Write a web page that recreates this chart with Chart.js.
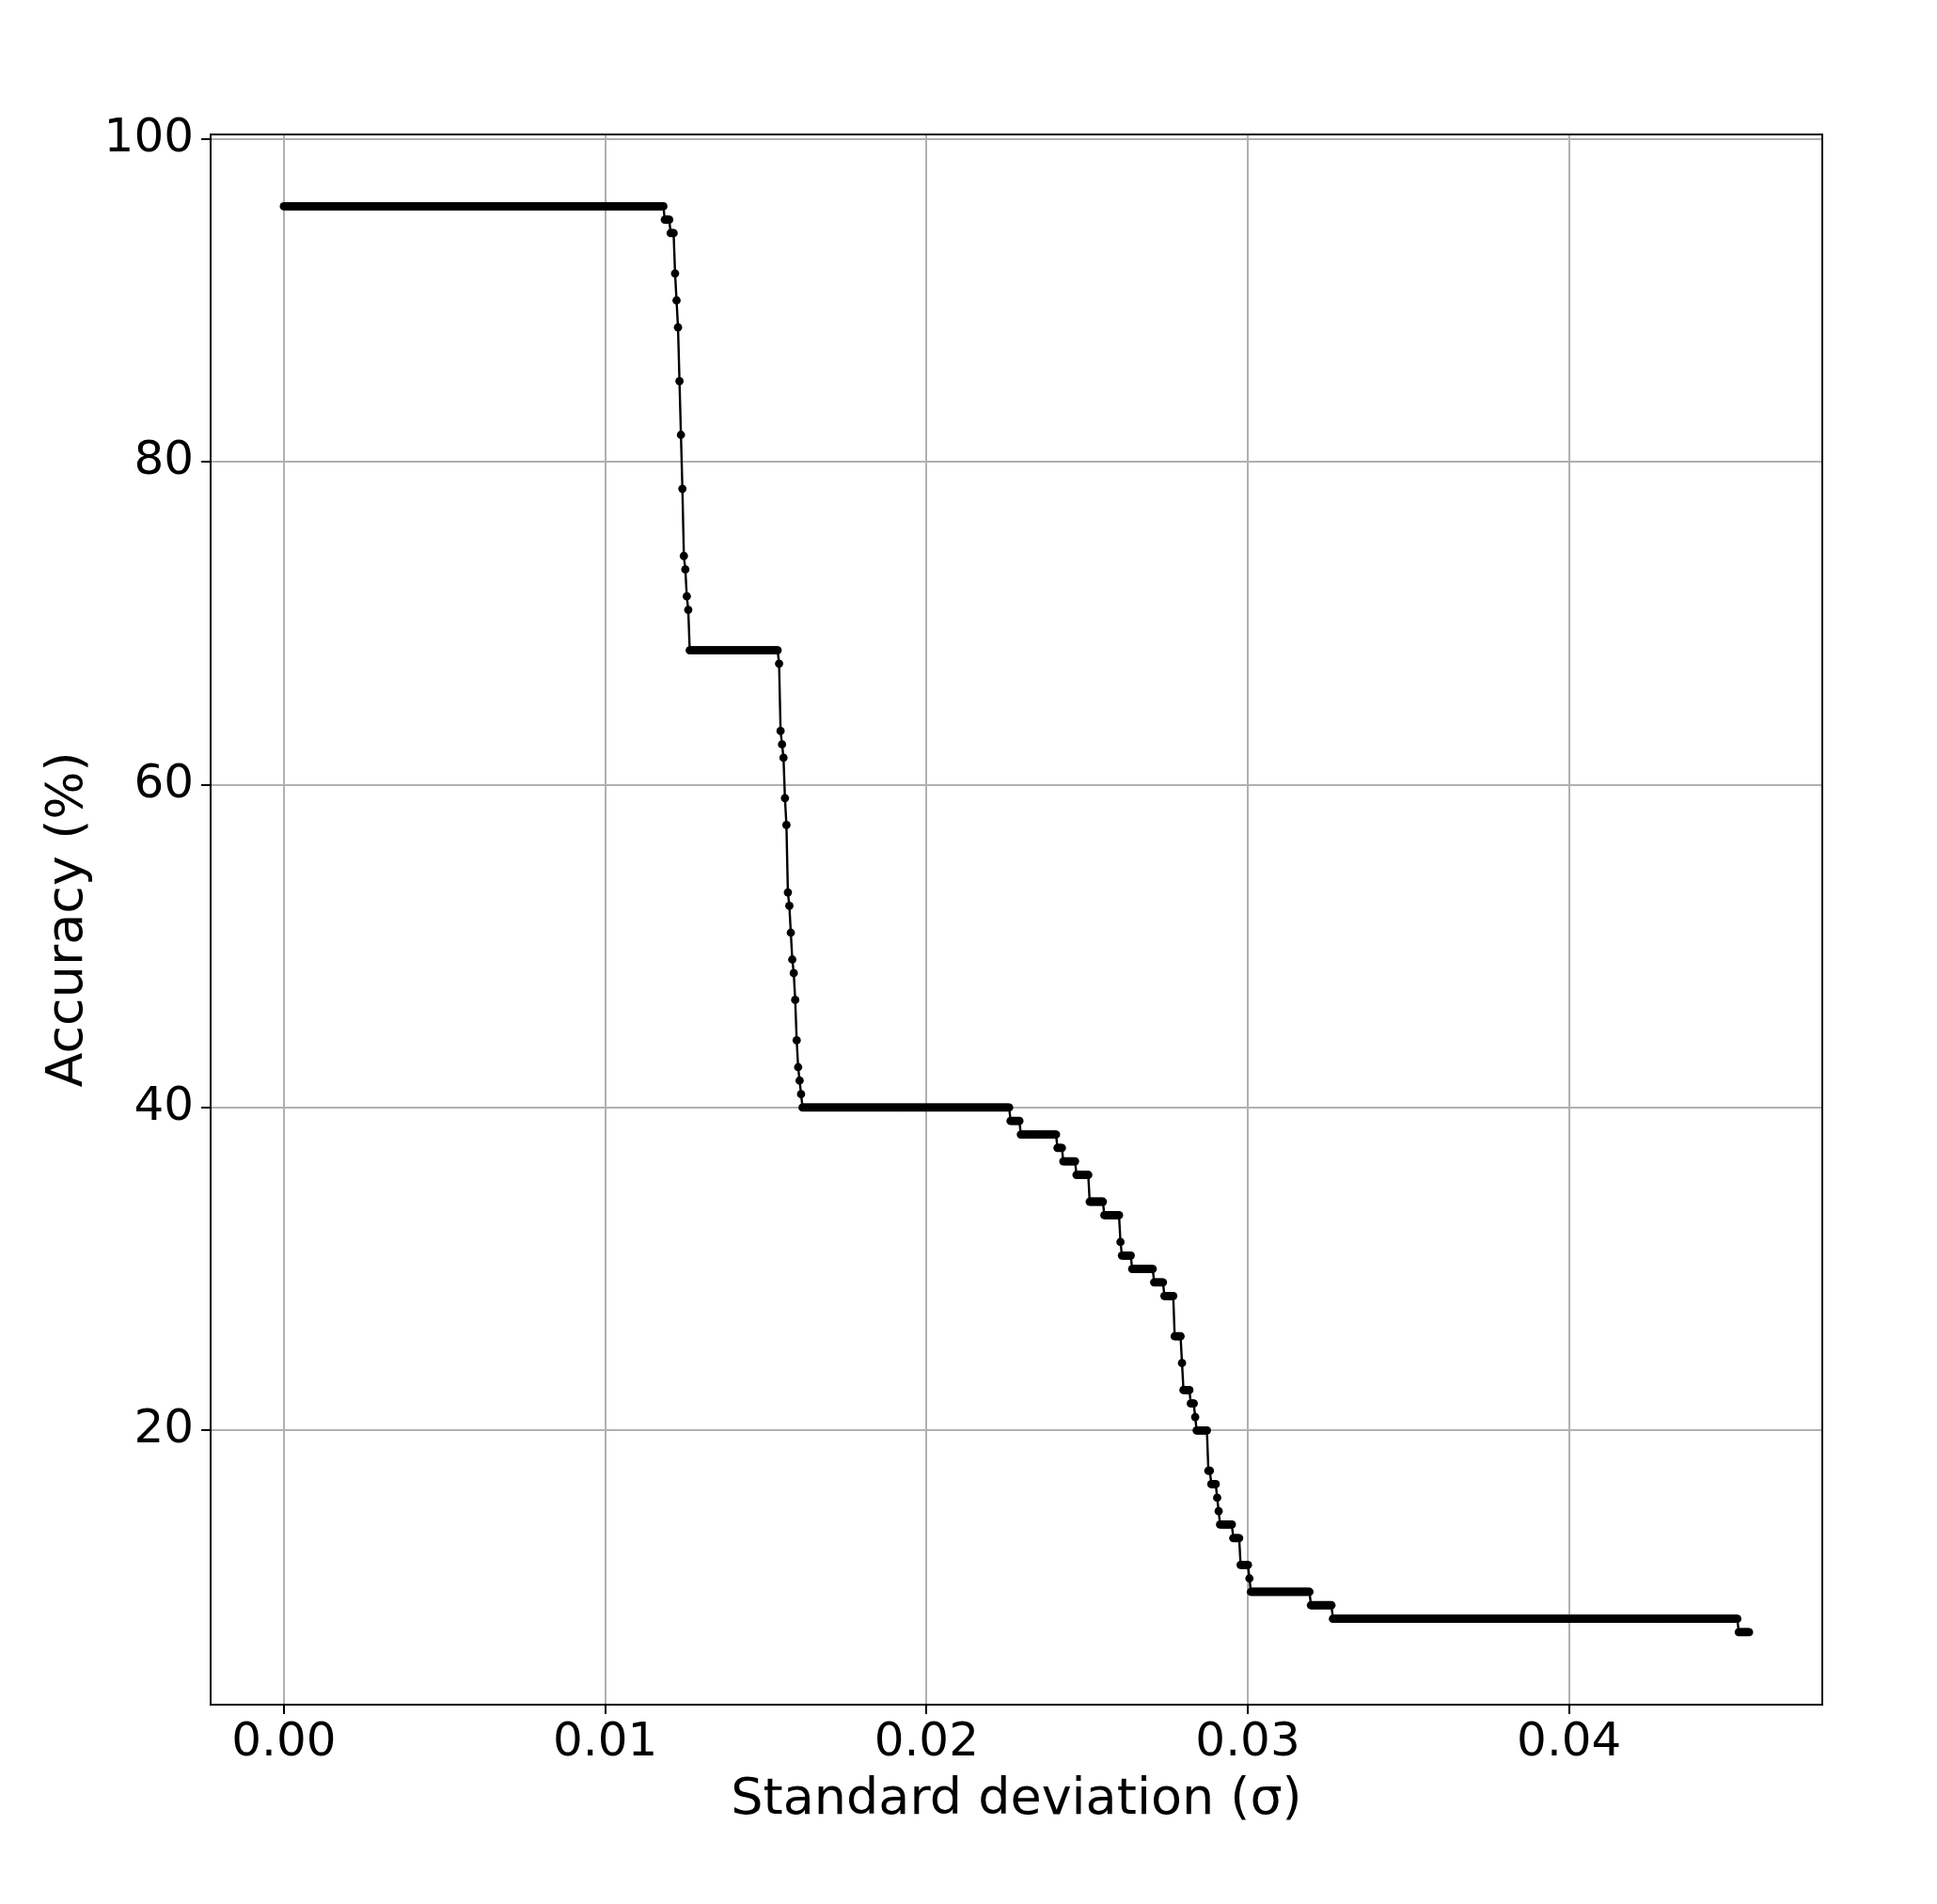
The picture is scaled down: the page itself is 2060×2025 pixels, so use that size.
<!DOCTYPE html>
<html>
<head>
<meta charset="utf-8">
<script src="https://cdn.jsdelivr.net/npm/chart.js@4.4.1/dist/chart.umd.min.js"></script>
<style>
  html, body { margin: 0; padding: 0; background: #fff; }
  canvas { display: block; }
</style>
</head>
<body>
<canvas id="GraficaCanvas" width="2060" height="2025"></canvas>
<script>
// sigma is sampled evenly from 0 to sigmaMax (sampleCount points)
const sigmaMax = 0.0456;
const sampleCount = 1001;

const accuracyLevels = [
  95.83, 95.0, 94.17, 91.67, 90.0, 88.33, 85.0, 81.67, 78.33, 74.17, 73.33, 71.67, 70.83,
  68.33, 67.5, 63.33, 62.5, 61.67, 59.17, 57.5, 53.33, 52.5, 50.83, 49.17, 48.33, 46.67,
  44.17, 42.5, 41.67, 40.83, 40.0, 39.17, 38.33, 37.5, 36.67, 35.83, 34.17, 33.33, 31.67,
  30.83, 30.0, 29.17, 28.33, 25.83, 24.17, 22.5, 21.67, 20.83, 20.0, 17.5, 16.67, 15.83,
  15.0, 14.17, 13.33, 11.67, 10.83, 10.0, 9.17, 8.33, 7.5,
];
const runLengths = [
  260, 4, 3, 1, 1, 1, 1, 1, 1, 1, 1, 1, 1,
  61, 1, 1, 1, 1, 1, 1, 1, 1, 1, 1, 1, 1,
  1, 1, 1, 1, 142, 7, 25, 4, 9, 9, 10, 11, 1,
  7, 15, 7, 7, 5, 1, 5, 3, 1, 8, 2, 4, 1,
  1, 9, 5, 6, 1, 41, 15, 277, 8,
];

const xTickValues = [0, 0.01, 0.02, 0.03, 0.04];
const yTickValues = [20, 40, 60, 80, 100];

const puntos = [];
let idx = 0;
accuracyLevels.forEach((acc, r) => {
  for (let k = 0; k < runLengths[r]; k++) {
    puntos.push({ x: (idx * sigmaMax) / (sampleCount - 1), y: acc });
    idx++;
  }
});

const marco = {
  id: "marco",
  afterDraw(chart) {
    const { ctx, chartArea } = chart;
    ctx.save();
    ctx.strokeStyle = "#000";
    ctx.lineWidth = 2;
    ctx.strokeRect(chartArea.left, chartArea.top, chartArea.right - chartArea.left, chartArea.bottom - chartArea.top);
    ctx.restore();
  },
};

const ctx = document.getElementById("GraficaCanvas").getContext("2d");
new Chart(ctx, {
  type: "scatter",
  data: {
    datasets: [
      {
        data: puntos,
        showLine: true,
        borderColor: "#000",
        borderWidth: 2.4,
        backgroundColor: "#000",
        pointRadius: 4.4,
        pointBorderWidth: 0,
        pointHoverRadius: 4.4,
      },
    ],
  },
  options: {
    responsive: false,
    animation: false,
    devicePixelRatio: 1,
    layout: { padding: { top: 143, right: 122, left: 0, bottom: 0 } },
    plugins: {
      legend: { display: false },
      tooltip: { enabled: false },
    },
    scales: {
      x: {
        type: "linear",
        min: -0.00228,
        max: 0.04788,
        afterFit: (s) => { s.height = 212; },
        afterBuildTicks: (s) => { s.ticks = xTickValues.map((value) => ({ value })); },
        ticks: {
          callback: (v) => v.toFixed(2),
          color: "#000",
          font: { family: "DejaVu Sans", size: 50 },
          padding: 1,
          maxRotation: 0,
        },
        grid: { color: "#b0b0b0", lineWidth: 2, tickColor: "#000", tickWidth: 2, tickLength: 10 },
        border: { display: true, color: "#000", width: 2 },
        title: {
          display: true,
          text: "Standard deviation (σ)",
          color: "#000",
          font: { family: "DejaVu Sans", size: 54 },
          padding: { top: 0, bottom: 78 },
        },
      },
      y: {
        type: "linear",
        min: 3.01,
        max: 100.28,
        afterFit: (s) => { s.width = 224; },
        afterBuildTicks: (s) => { s.ticks = yTickValues.map((value) => ({ value })); },
        ticks: {
          color: "#000",
          font: { family: "DejaVu Sans", size: 50 },
          padding: 8,
        },
        grid: { color: "#b0b0b0", lineWidth: 2, tickColor: "#000", tickWidth: 2, tickLength: 10 },
        border: { display: true, color: "#000", width: 2 },
        title: {
          display: true,
          text: "Accuracy (%)",
          color: "#000",
          font: { family: "DejaVu Sans", size: 54 },
          padding: { top: 41, bottom: 0 },
        },
      },
    },
  },
  plugins: [marco],
});
</script>
</body>
</html>
